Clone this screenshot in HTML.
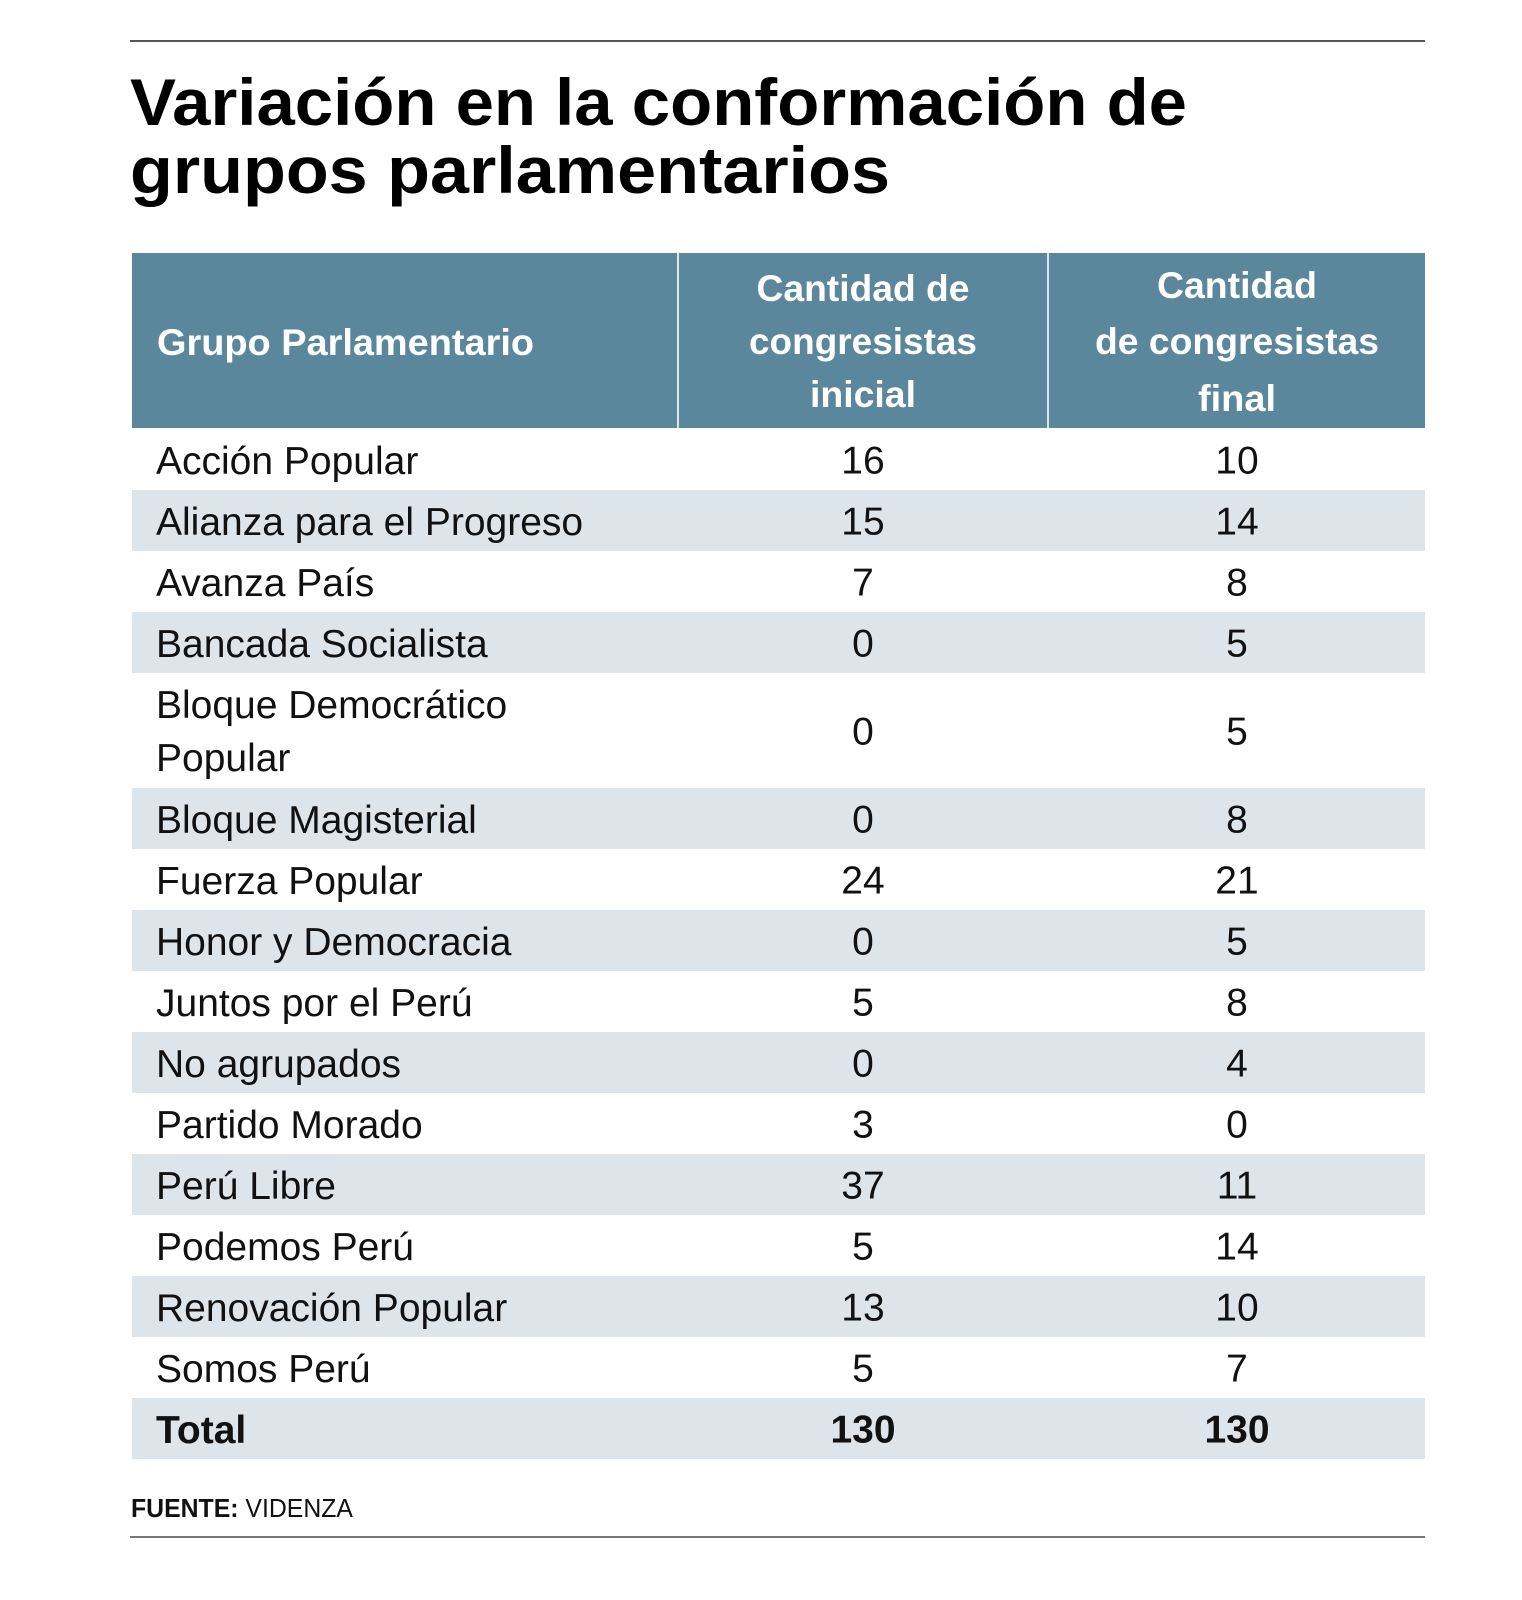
<!DOCTYPE html>
<html><head><meta charset="utf-8">
<style>
html,body{margin:0;padding:0;background:#fff;}
svg{display:block;font-family:"Liberation Sans",sans-serif;}
</style></head>
<body>
<svg id="chart" width="1522" height="1600" viewBox="0 0 1522 1600" xmlns="http://www.w3.org/2000/svg">
<line x1="130" y1="41" x2="1425" y2="41" stroke="#555" stroke-width="2"/>
<text x="130" y="125" font-size="66" font-weight="bold" fill="#000" textLength="1057" lengthAdjust="spacingAndGlyphs">Variación en la conformación de</text>
<text x="130" y="193" font-size="66" font-weight="bold" fill="#000" textLength="760" lengthAdjust="spacingAndGlyphs">grupos parlamentarios</text>
<rect x="132" y="253" width="1293" height="175" fill="#5b879c"/>
<line x1="678" y1="253" x2="678" y2="428" stroke="#dfe6eb" stroke-width="2"/>
<line x1="1048" y1="253" x2="1048" y2="428" stroke="#dfe6eb" stroke-width="2"/>
<g fill="#fff" font-weight="bold" font-size="37">
<text x="157" y="355" textLength="377" lengthAdjust="spacingAndGlyphs">Grupo Parlamentario</text>
<text x="863" y="301" text-anchor="middle" textLength="213" lengthAdjust="spacingAndGlyphs">Cantidad de</text>
<text x="863" y="354" text-anchor="middle" textLength="228" lengthAdjust="spacingAndGlyphs">congresistas</text>
<text x="863" y="407" text-anchor="middle" textLength="106" lengthAdjust="spacingAndGlyphs">inicial</text>
<text x="1237" y="298" text-anchor="middle" textLength="160" lengthAdjust="spacingAndGlyphs">Cantidad</text>
<text x="1237" y="354" text-anchor="middle" textLength="284" lengthAdjust="spacingAndGlyphs">de congresistas</text>
<text x="1237" y="411" text-anchor="middle" textLength="78" lengthAdjust="spacingAndGlyphs">final</text>
</g>
<g id="rows"></g>
<line x1="130" y1="1537" x2="1425" y2="1537" stroke="#777" stroke-width="2"/>
<text x="131" y="1517" font-size="26" fill="#111" textLength="222" lengthAdjust="spacingAndGlyphs"><tspan font-weight="bold">FUENTE:</tspan> VIDENZA</text>
</svg>
<script>
const groups = ["Acción Popular","Alianza para el Progreso","Avanza País","Bancada Socialista","Bloque Democrático|Popular","Bloque Magisterial","Fuerza Popular","Honor y Democracia","Juntos por el Perú","No agrupados","Partido Morado","Perú Libre","Podemos Perú","Renovación Popular","Somos Perú"];
const initialCounts = [16,15,7,0,0,0,24,0,5,0,3,37,5,13,5];
const finalCounts = [10,14,8,5,5,8,21,5,8,4,0,11,14,10,7];
const totalLabel = "Total";

const NS = "http://www.w3.org/2000/svg";
const g = document.getElementById("rows");
function mk(tag, attrs, txt){
  const e = document.createElementNS(NS, tag);
  for (const k in attrs) e.setAttribute(k, attrs[k]);
  if (txt !== undefined) e.textContent = txt;
  g.appendChild(e);
  return e;
}
const ROW_H = 61, X0 = 132, W = 1293, COL1 = 863, COL2 = 1237, FS = 39;
let y = 429;
function addRow(i, name, a, b, bold){
  const lines = name.split("|");
  const h = lines.length > 1 ? 115 : ROW_H;
  if (i % 2 === 1) {
    const r = mk("rect", {x:X0, y:y, width:W, height:h, fill:"#dde4ea"});
    
    
  }
  const fw = bold ? "bold" : "normal";
  lines.forEach((ln, j) => {
    const by = lines.length > 1 ? y + 45 + j * 53 : y + 45;
    const t = mk("text", {x:156, y:by, "font-size":FS, "font-weight":fw, fill:"#111"}, ln);
    
    
  });
  const cy = y + h / 2 + 14;
  const t1 = mk("text", {x:COL1, y:cy, "font-size":FS, "font-weight":fw, fill:"#111", "text-anchor":"middle"}, a);
  
  
  const t2 = mk("text", {x:COL2, y:cy, "font-size":FS, "font-weight":fw, fill:"#111", "text-anchor":"middle"}, b);
  
  
  y += h;
}
groups.forEach((n, i) => addRow(i, n, initialCounts[i], finalCounts[i], false));
const sumA = initialCounts.reduce((s, v) => s + v, 0);
const sumB = finalCounts.reduce((s, v) => s + v, 0);
addRow(groups.length, totalLabel, sumA, sumB, true);
</script>
</body></html>
